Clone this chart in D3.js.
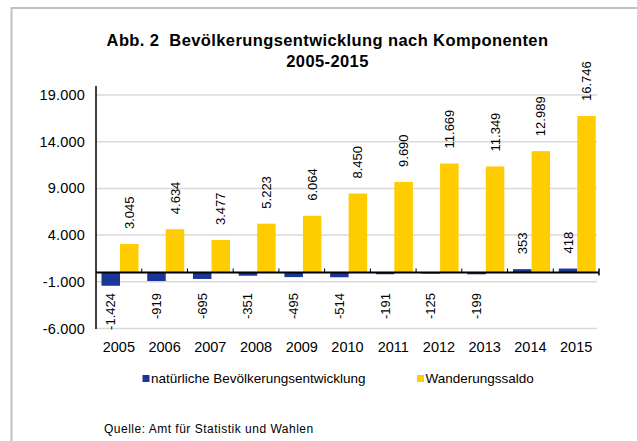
<!DOCTYPE html>
<html>
<head>
<meta charset="utf-8">
<script src="https://cdn.jsdelivr.net/npm/d3@7/dist/d3.min.js"></script>
<style>
  html, body { margin: 0; padding: 0; background: #fff; }
  svg { display: block; font-family: "Liberation Sans", Arial, Helvetica, sans-serif; }
</style>
</head>
<body>
<svg id="chart" width="637" height="441"></svg>
<script>
// Population change by component, 2005-2015
const years = ["2005", "2006", "2007", "2008", "2009", "2010", "2011", "2012", "2013", "2014", "2015"];
const natuerlich = [-1424, -919, -695, -351, -495, -514, -191, -125, -199, 353, 418];
const wanderung = [3045, 4634, 3477, 5223, 6064, 8450, 9690, 11669, 11349, 12989, 16746];
const yTicks = [-6000, -1000, 4000, 9000, 14000, 19000];
const seriesNames = ["natürliche Bevölkerungsentwicklung", "Wanderungssaldo"];
const seriesColors = ["#1a3797", "#ffcc00"];

const de = d3.formatLocale({ decimal: ",", thousands: ".", grouping: [3], currency: ["", " €"], minus: "-" });
const fmt = de.format(",d");

const svg = d3.select("#chart");

// outer frame (runs past the right and bottom edges)
svg.append("rect")
  .attr("x", 11.5).attr("y", 8)
  .attr("width", 700).attr("height", 500)
  .attr("fill", "none").attr("stroke", "#c0c0c0").attr("stroke-width", 2);

// title
const title = svg.append("text")
  .attr("text-anchor", "middle")
  .attr("font-weight", "bold")
  .attr("font-size", 16.5)
  .attr("letter-spacing", 0.4)
  .style("white-space", "pre")
  .attr("fill", "#000");
title.append("tspan").attr("x", 327.5).attr("y", 46).text("Abb. 2  Bevölkerungsentwicklung nach Komponenten");
title.append("tspan").attr("x", 327.5).attr("y", 67).text("2005-2015");

const left = 96, right = 599;
const y = d3.scaleLinear().domain([-6000, 19000]).range([328.5, 95]);
const x = d3.scaleBand().domain(years).range([left, right]).padding(0);
const inner = d3.scaleBand().domain(["nat", "mig"]).range([5.5, 5.5 + 37]).padding(0);

// gridlines
svg.append("g")
  .selectAll("line")
  .data(yTicks)
  .join("line")
  .attr("x1", left).attr("x2", 597)
  .attr("y1", d => y(d)).attr("y2", d => y(d))
  .attr("stroke", "#d9d9d9").attr("stroke-width", 1.5);

// y tick labels
svg.append("g")
  .selectAll("text")
  .data(yTicks)
  .join("text")
  .attr("x", 85).attr("y", d => y(d))
  .attr("dy", "0.35em")
  .attr("text-anchor", "end")
  .attr("font-size", 14.5)
  .attr("letter-spacing", 0.2)
  .attr("fill", "#000")
  .text(d => fmt(d));

const rows = years.map((yr, i) => ({ year: yr, nat: natuerlich[i], mig: wanderung[i] }));

// bars
const groups = svg.append("g")
  .selectAll("g")
  .data(rows)
  .join("g")
  .attr("transform", d => `translate(${x(d.year)},0)`);

["nat", "mig"].forEach((key, k) => {
  groups.append("rect")
    .attr("x", inner(key))
    .attr("width", inner.bandwidth())
    .attr("y", d => y(Math.max(0, d[key])))
    .attr("height", d => Math.abs(y(d[key]) - y(0)))
    .attr("fill", seriesColors[k]);
});

// value labels, rotated
["nat", "mig"].forEach(key => {
  groups.append("text")
    .attr("font-size", 13)
    .attr("fill", "#000")
    .attr("dy", "0.35em")
    .attr("text-anchor", d => d[key] >= 0 ? "start" : "end")
    .attr("transform", d => {
      const cx = inner(key) + inner.bandwidth() / 2;
      const py = d[key] >= 0 ? y(d[key]) - 15 : Math.max(y(d[key]) + 7, y(-2200));
      return `translate(${cx},${py}) rotate(-90)`;
    })
    .text(d => fmt(d[key]));
});

// axes
svg.append("line")
  .attr("x1", left).attr("x2", left)
  .attr("y1", 86).attr("y2", 329)
  .attr("stroke", "#000").attr("stroke-width", 1.5);

svg.append("line")
  .attr("x1", left).attr("x2", right)
  .attr("y1", y(0)).attr("y2", y(0))
  .attr("stroke", "#000").attr("stroke-width", 2);

svg.append("g")
  .selectAll("line")
  .data(years.slice(1))
  .join("line")
  .attr("x1", d => x(d)).attr("x2", d => x(d))
  .attr("y1", y(0) - 4).attr("y2", y(0))
  .attr("stroke", "#000").attr("stroke-width", 1);
svg.append("line")
  .attr("x1", right).attr("x2", right)
  .attr("y1", y(0) - 4).attr("y2", y(0) + 3)
  .attr("stroke", "#000").attr("stroke-width", 1.5);

// year labels
svg.append("g")
  .selectAll("text")
  .data(years)
  .join("text")
  .attr("x", d => x(d) + x.bandwidth() / 2)
  .attr("y", 352)
  .attr("text-anchor", "middle")
  .attr("font-size", 14.5)
  .attr("fill", "#000")
  .text(d => d);

// legend
const legendX = [142.5, 417];
seriesNames.forEach((name, i) => {
  svg.append("rect")
    .attr("x", legendX[i]).attr("y", 375)
    .attr("width", 7).attr("height", 7)
    .attr("fill", seriesColors[i]);
  svg.append("text")
    .attr("x", legendX[i] + 8.5).attr("y", 383)
    .attr("font-size", 13.5)
    .attr("fill", "#000")
    .text(name);
});

// source
svg.append("text")
  .attr("x", 104).attr("y", 433)
  .attr("font-size", 12)
  .attr("letter-spacing", 0.5)
  .attr("fill", "#000")
  .text("Quelle: Amt für Statistik und Wahlen");
</script>
</body>
</html>
